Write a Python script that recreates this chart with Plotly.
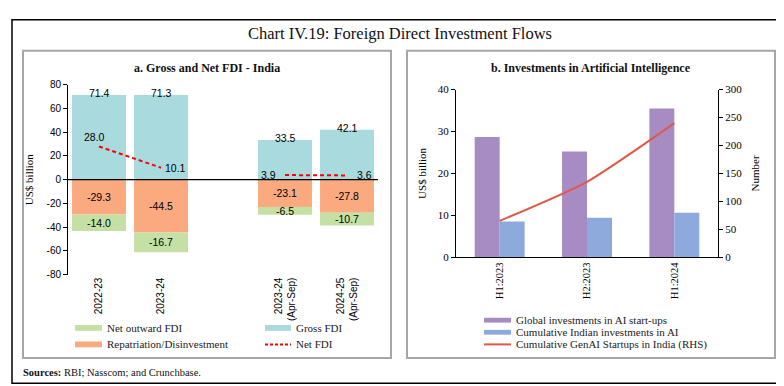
import plotly.graph_objects as go

W, H = 784, 386
def fx(px):
    return px / W
def fy(py):
    return 1 - py / H

# ---------------- data ----------------
# Panel a: Gross and Net FDI - India (US$ billion)
cats_a = ["2022-23", "2023-24", " ", "2023-24<br>(Apr-Sep)", "2024-25<br>(Apr-Sep)"]
gross_fdi = [71.4, 71.3, None, 33.5, 42.1]
repatriation = [-29.3, -44.5, None, -23.1, -27.8]
net_outward_fdi = [-14.0, -16.7, None, -6.5, -10.7]
net_fdi = [28.0, 10.1, None, 3.9, 3.6]
ticks_a = [-80, -60, -40, -20, 0, 20, 40, 60, 80]

# Panel b: Investments in Artificial Intelligence
cats_b = ["H1:2023", "H2:2023", "H1:2024"]
global_ai = [28.7, 25.2, 35.5]
indian_ai = [8.5, 9.4, 10.6]
genai_startups = [65, 135, 240]

names_a = ["Net outward FDI", "Gross FDI", "Repatriation/Disinvestment", "Net FDI"]
names_b = ["Global investments in AI start-ups", "Cumulative Indian investments in AI",
           "Cumulative GenAI Startups in India (RHS)"]

# ---------------- styles ----------------
C_GROSS = "#A9DADE"
C_REPAT = "#FBAA80"
C_NOUT = "#C5E0A5"
C_NET = "#FF0000"
C_PURPLE = "#A78BC3"
C_BLUE = "#8EA9DB"
C_LINE = "#DD5A48"
SERIF = "Liberation Serif"
SANS = "Liberation Sans"

fig = go.Figure()

# Panel a bars
fig.add_trace(go.Bar(x=cats_a, y=gross_fdi, name=names_a[1], marker=dict(color=C_GROSS, line=dict(width=0)),
                     xaxis="x", yaxis="y"))
fig.add_trace(go.Bar(x=cats_a, y=repatriation, name=names_a[2], marker=dict(color=C_REPAT, line=dict(width=0)),
                     xaxis="x", yaxis="y"))
fig.add_trace(go.Bar(x=cats_a, y=net_outward_fdi, name=names_a[0], marker=dict(color=C_NOUT, line=dict(width=0)),
                     xaxis="x", yaxis="y"))
fig.add_trace(go.Scatter(x=cats_a, y=net_fdi, name=names_a[3], mode="lines",
                         line=dict(color=C_NET, width=2, dash="4px,3px"), connectgaps=False,
                         xaxis="x", yaxis="y"))

# Panel b bars (overlay via base, side by side via offset)
bw = 0.286
fig.add_trace(go.Bar(x=cats_b, y=global_ai, base=0, offset=-bw, width=bw, name=names_b[0],
                     marker=dict(color=C_PURPLE, line=dict(width=0)), xaxis="x2", yaxis="y2"))
fig.add_trace(go.Bar(x=cats_b, y=indian_ai, base=0, offset=0, width=bw, name=names_b[1],
                     marker=dict(color=C_BLUE, line=dict(width=0)), xaxis="x2", yaxis="y2"))
fig.add_trace(go.Scatter(x=cats_b, y=genai_startups, name=names_b[2], mode="lines",
                         line=dict(color=C_LINE, width=2, shape="spline", smoothing=0.6),
                         xaxis="x2", yaxis="y3"))

# Data labels for panel a
ann = []
lab_font = dict(family=SANS, size=10.5, color="#000")
for c, g, r, n in zip(cats_a, gross_fdi, repatriation, net_outward_fdi):
    if g is None:
        continue
    ann.append(dict(x=c, y=g, xref="x", yref="y", text="%.1f" % g, showarrow=False,
                    font=lab_font, yanchor="middle", yshift=2))
    ann.append(dict(x=c, y=r / 2, xref="x", yref="y", text="%.1f" % r, showarrow=False,
                    font=lab_font, yanchor="middle"))
    ann.append(dict(x=c, y=r + n / 2, xref="x", yref="y", text="%.1f" % n, showarrow=False,
                    font=lab_font, yanchor="middle"))
# Net FDI labels (offsets are styling only)
net_shift = [(-5, 9), (14, 0), (0, 0), (-17, 0), (17, 0)]
for c, v, (dx, dy) in zip(cats_a, net_fdi, net_shift):
    if v is None:
        continue
    ann.append(dict(x=c, y=v, xref="x", yref="y", text="%.1f" % v, showarrow=False,
                    font=lab_font, yanchor="middle", xshift=dx, yshift=dy))

# Titles
ann.append(dict(x=fx(392), y=fy(20), xref="paper", yref="paper", text="Chart IV.19: Foreign Direct Investment Flows",
                showarrow=False, font=dict(family=SERIF, size=16.5, color="#111"), xanchor="center", yanchor="middle"))
ann.append(dict(x=fx(199), y=fy(56), xref="paper", yref="paper", text="<b>a. Gross and Net FDI - India</b>",
                showarrow=False, font=dict(family=SERIF, size=12, color="#111"), xanchor="center", yanchor="middle"))
ann.append(dict(x=fx(583), y=fy(56), xref="paper", yref="paper", text="<b>b. Investments in Artificial Intelligence</b>",
                showarrow=False, font=dict(family=SERIF, size=12, color="#111"), xanchor="center", yanchor="middle"))
ann.append(dict(x=fx(13), y=fy(370), xref="paper", yref="paper",
                text="<b>Sources:</b> RBI; Nasscom; and Crunchbase.",
                showarrow=False, font=dict(family=SERIF, size=10.5, color="#111"), xanchor="left", yanchor="middle"))

# Manual legends
shapes = []
leg_font = dict(family=SERIF, size=11, color="#222")
def leg_rect(x0, x1, yc, color, h=5):
    shapes.append(dict(type="rect", xref="paper", yref="paper", x0=fx(x0), x1=fx(x1),
                       y0=fy(yc + h / 2), y1=fy(yc - h / 2), fillcolor=color, line=dict(width=0)))
def leg_line(x0, x1, yc, color, dash="solid"):
    shapes.append(dict(type="line", xref="paper", yref="paper", x0=fx(x0), x1=fx(x1),
                       y0=fy(yc), y1=fy(yc), line=dict(color=color, width=2, dash=dash)))
def leg_text(x, yc, text):
    ann.append(dict(x=fx(x), y=fy(yc), xref="paper", yref="paper", text=text, showarrow=False,
                    font=leg_font, xanchor="left", yanchor="middle"))

leg_rect(67, 94, 324, C_NOUT, 6); leg_text(97, 324, names_a[0])
leg_rect(257, 283, 324, C_GROSS, 6); leg_text(286, 324, names_a[1])
leg_rect(67, 94, 341, C_REPAT, 6); leg_text(97, 341, names_a[2])
leg_line(257, 283, 341, C_NET, "3px,2px"); leg_text(286, 341, names_a[3])

leg_rect(476, 503, 316, C_PURPLE, 5); leg_text(506, 316, names_b[0])
leg_rect(476, 503, 328.5, C_BLUE, 5); leg_text(506, 328.5, names_b[1])
leg_line(476, 503, 341, C_LINE); leg_text(506, 341, names_b[2])

# Boxes
shapes.append(dict(type="rect", xref="paper", yref="paper", x0=fx(4), x1=fx(779), y0=fy(381), y1=fy(6),
                   line=dict(color="#000", width=1.5), layer="below"))
shapes.append(dict(type="rect", xref="paper", yref="paper", x0=fx(15), x1=fx(383), y0=fy(355), y1=fy(38),
                   line=dict(color="#A6A6A6", width=2), layer="below"))
shapes.append(dict(type="rect", xref="paper", yref="paper", x0=fx(399), x1=fx(767), y0=fy(355), y1=fy(38),
                   line=dict(color="#A6A6A6", width=2), layer="below"))
# zero line of panel a, above bars
shapes.append(dict(type="line", xref="paper", yref="y", x0=fx(60), x1=fx(370), y0=0, y1=0,
                   line=dict(color="#000", width=1.2), layer="above"))

fig.update_layout(
    width=W, height=H, margin=dict(l=0, r=0, t=0, b=0),
    paper_bgcolor="white", plot_bgcolor="white",
    showlegend=False, barmode="relative", bargap=0.13,
    annotations=ann, shapes=shapes,
    xaxis=dict(domain=[fx(60), fx(370)], anchor="y", type="category",
               categoryorder="array", categoryarray=cats_a,
               tickangle=-90, showline=False, ticks="", showgrid=False, zeroline=False,
               tickfont=dict(family=SANS, size=10, color="#000")),
    yaxis=dict(domain=[fy(269), fy(73)], anchor="x", range=[-80, 80],
               tickmode="array", tickvals=ticks_a, ticktext=[str(t) for t in ticks_a],
               ticks="outside", ticklen=4, tickcolor="#000", showline=True, linecolor="#000", linewidth=1,
               showgrid=False, zeroline=False,
               tickfont=dict(family=SANS, size=10, color="#000"),
               title=dict(text="US$ billion", font=dict(family=SERIF, size=11, color="#000"), standoff=10)),
    xaxis2=dict(domain=[fx(448), fx(710)], anchor="y2", type="category",
                tickangle=-90, showline=True, linecolor="#000", linewidth=1, ticks="", showgrid=False,
                tickfont=dict(family=SERIF, size=10.5, color="#000")),
    yaxis2=dict(domain=[fy(251), fy(78)], anchor="x2", range=[0, 40], dtick=10,
                ticks="outside", ticklen=4, tickcolor="#000", showline=True, linecolor="#000", linewidth=1,
                showgrid=False, zeroline=False,
                tickfont=dict(family=SERIF, size=11, color="#000"),
                title=dict(text="US$ billion", font=dict(family=SERIF, size=11, color="#000"), standoff=8)),
    yaxis3=dict(overlaying="y2", side="right", anchor="x2", range=[0, 300], dtick=50,
                ticks="outside", ticklen=4, tickcolor="#000", showline=True, linecolor="#000", linewidth=1,
                showgrid=False, zeroline=False,
                tickfont=dict(family=SERIF, size=11, color="#000"),
                title=dict(text="Number", font=dict(family=SERIF, size=11, color="#000"), standoff=10)),
)

fig.write_html("out.html")
